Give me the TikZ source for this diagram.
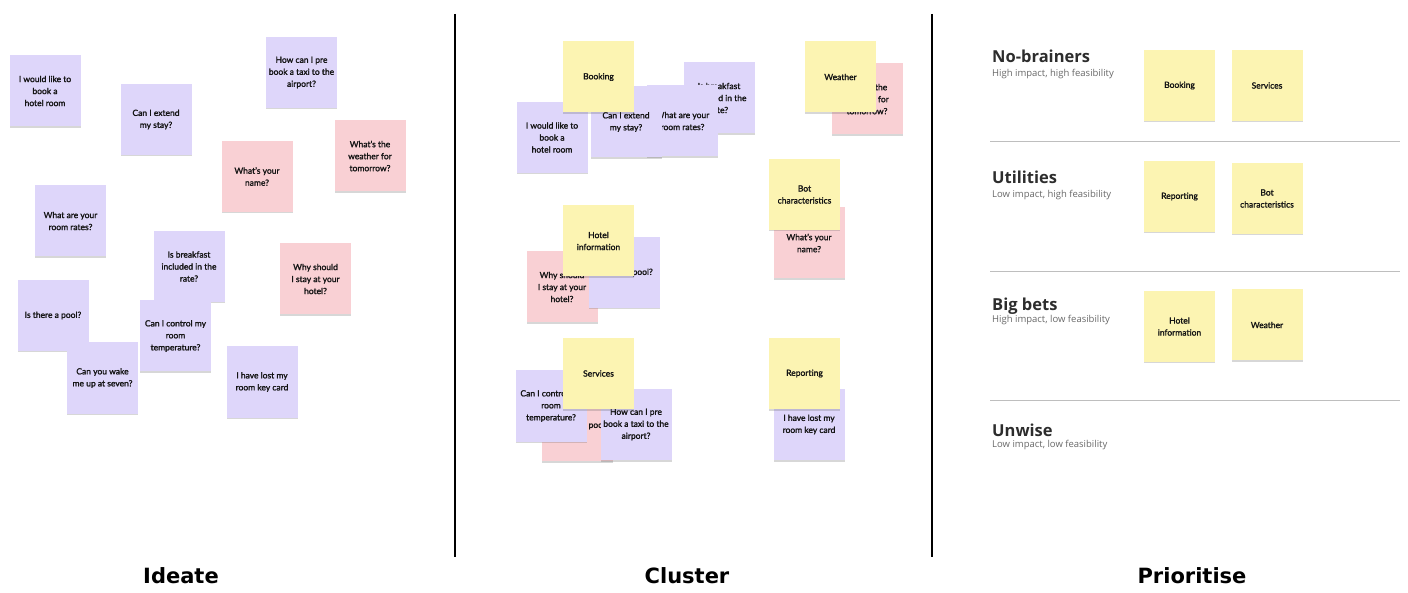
\documentclass[tikz,border=0pt]{standalone}
\usepackage{fontspec}
\setmainfont{Lato}
\newfontfamily\notefont[FakeBold=1.6]{Lato}
\newfontfamily\headfont{Open Sans}
\newfontfamily\labelfont{DejaVu Sans}
\usetikzlibrary{shadows}
\definecolor{lav}{RGB}{222,214,250}
\definecolor{pnk}{RGB}{249,208,212}
\definecolor{ylw}{RGB}{252,244,178}
\definecolor{notetext}{RGB}{20,20,20}
\definecolor{headtext}{RGB}{45,45,45}
\definecolor{subtext}{RGB}{105,105,105}
\definecolor{rulegray}{RGB}{190,190,190}
\tikzset{
  note/.style={minimum width=71pt, minimum height=71pt, inner sep=0pt,
    align=center, text=notetext,
    font=\notefont\fontsize{8.5}{12}\selectfont,
    drop shadow={shadow xshift=0pt, shadow yshift=-1.5pt, opacity=0.22, fill=black!70}},
  lavnote/.style={note, fill=lav},
  pnknote/.style={note, fill=pnk},
  ylwnote/.style={note, fill=ylw},
  headline/.style={anchor=base west, inner sep=0pt, text=headtext,
    font=\headfont\bfseries\fontsize{16.5}{20}\selectfont},
  subline/.style={anchor=base west, inner sep=0pt, text=subtext,
    font=\headfont\fontsize{9.5}{11}\selectfont},
  stagelabel/.style={anchor=base, inner sep=0pt, text=black,
    font=\labelfont\bfseries\fontsize{21}{24}\selectfont},
  divider/.style={draw=black, line width=1.5pt},
  quadrule/.style={draw=rulegray, line width=1pt}
}
\begin{document}
\begin{tikzpicture}[x=1pt,y=-1pt]
\useasboundingbox (0,0) rectangle (1408,593);
\fill[white] (0,0) rectangle (1408,593);

% ---------------- Ideate ----------------
\node[lavnote] (i1) at (45,91) {I would like to\\book a\\hotel room};
\node[lavnote] (i2) at (156,119.5) {Can I extend\\my stay?};
\node[lavnote] (i3) at (301.5,72.5) {How can I pre\\book a taxi to the\\airport?};
\node[pnknote] (i4) at (257,176.5) {What’s your\\name?};
\node[pnknote] (i5) at (370,156) {What’s the\\weather for\\tomorrow?};
\node[lavnote] (i6) at (70.5,221) {What are your\\room rates?};
\node[lavnote] (i7) at (189,266.5) {Is breakfast\\included in the\\rate?};
\node[pnknote] (i8) at (315.5,279) {Why should\\I stay at your\\hotel?};
\node[lavnote] (i9) at (53,315.5) {Is there a pool?};
\node[lavnote] (i10) at (175.5,336) {Can I control my\\room\\temperature?};
\node[lavnote] (i11) at (102.5,378) {Can you wake\\me up at seven?};
\node[lavnote] (i12) at (262,382) {I have lost my\\room key card};

% ---------------- Cluster ----------------
\node[lavnote] (c1) at (719,98) {Is breakfast\\included in the\\rate?};
\node[lavnote] (c2) at (682.5,121) {What are your\\room rates?};
\node[lavnote] (c3) at (626,122) {Can I extend\\my stay?};
\node[lavnote] (c4) at (552,137.5) {I would like to\\book a\\hotel room};
\node[ylwnote] (cbook) at (598.5,77) {Booking};

\node[pnknote] (c5) at (867,99) {What’s the\\weather for\\tomorrow?};
\node[ylwnote] (cweather) at (840.5,77) {Weather};

\node[pnknote] (c6) at (809,243) {What’s your\\name?};
\node[ylwnote] (cbot) at (804.5,194.5) {Bot\\characteristics};

\node[pnknote] (c7) at (562,287) {Why should\\I stay at your\\hotel?};
\node[lavnote] (c8) at (624.5,272.5) {Is there a pool?};
\node[ylwnote] (chotel) at (598.5,241) {Hotel\\information};

\node[pnknote] (c9) at (577,425.5) {\hspace*{7pt}Is there a pool?};
\node[lavnote] (c10) at (551,406) {Can I control my\\room\\temperature?};
\node[lavnote] (c11) at (636,424.5) {How can I pre\\book a taxi to the\\airport?};
\node[ylwnote] (cserv) at (598.5,373.5) {Services};

\node[lavnote] (c12) at (809,424.5) {I have lost my\\room key card};
\node[ylwnote] (crep) at (804.5,373.5) {Reporting};

% ---------------- Prioritise ----------------
\node[headline] (h1) at (992,62.5) {No-brainers};
\node[subline] (s1) at (992,77) {High impact, high feasibility};
\node[ylwnote] (pbook) at (1179.5,85.5) {Booking};
\node[ylwnote] (pserv) at (1267,85.5) {Services};
\coordinate (r1a) at (990,142);
\coordinate (r1b) at (1400,142);
\draw[quadrule] (r1a) -- (r1b);

\node[headline] (h2) at (992,184) {Utilities};
\node[subline] (s2) at (992,198) {Low impact, high feasibility};
\node[ylwnote] (prep) at (1179.5,196.5) {Reporting};
\node[ylwnote] (pbot) at (1267,198.5) {Bot\\characteristics};
\coordinate (r2a) at (990,272);
\coordinate (r2b) at (1400,272);
\draw[quadrule] (r2a) -- (r2b);

\node[headline] (h3) at (992,310.5) {Big bets};
\node[subline] (s3) at (992,323) {High impact, low feasibility};
\node[ylwnote] (photel) at (1179.5,326.5) {Hotel\\information};
\node[ylwnote] (pweather) at (1267,325) {Weather};
\coordinate (r3a) at (990,400);
\coordinate (r3b) at (1400,400);
\draw[quadrule] (r3a) -- (r3b);

\node[headline] (h4) at (992,436.7) {Unwise};
\node[subline] (s4) at (992,447) {Low impact, low feasibility};

% ---------------- dividers and stage labels ----------------
\coordinate (d1a) at (455,14);
\coordinate (d1b) at (455,557);
\coordinate (d2a) at (932,14);
\coordinate (d2b) at (932,557);
\draw[divider] (d1a) -- (d1b);
\draw[divider] (d2a) -- (d2b);

\node[stagelabel] (lab1) at (181,583) {Ideate};
\node[stagelabel] (lab2) at (687,583) {Cluster};
\node[stagelabel] (lab3) at (1192,583) {Prioritise};
\end{tikzpicture}
\end{document}
